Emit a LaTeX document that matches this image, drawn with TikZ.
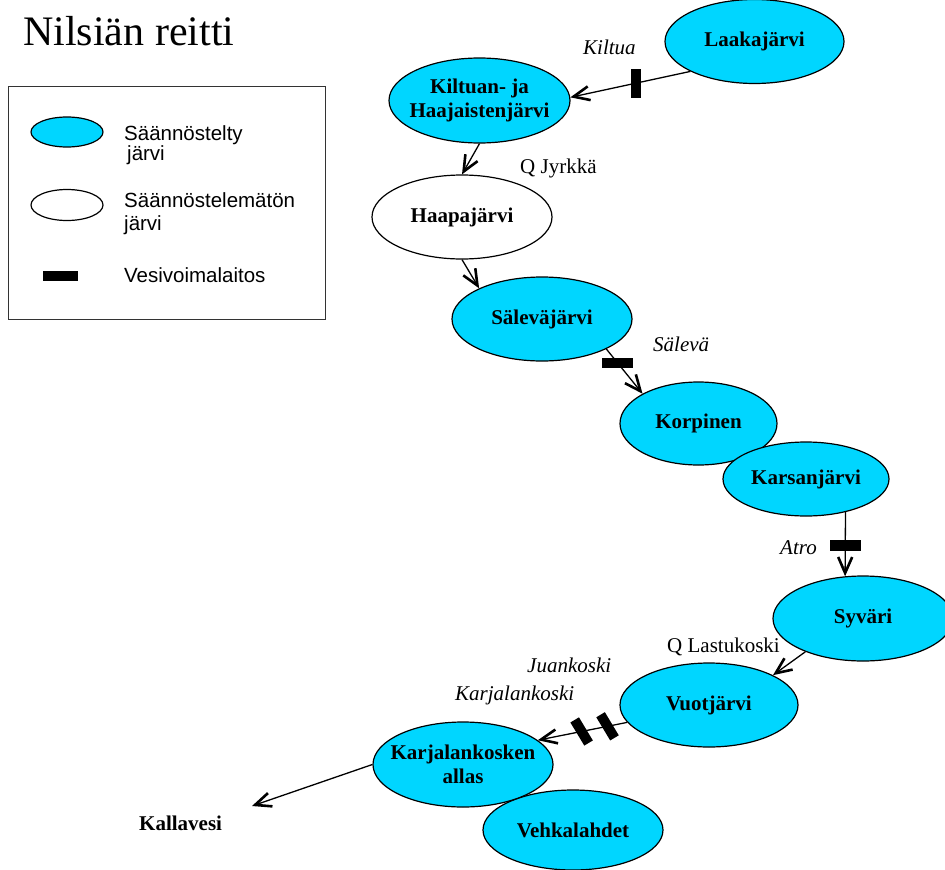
\documentclass[tikz,border=0pt]{standalone}
\usepackage{fontspec}
\setmainfont{Liberation Serif}
\newfontfamily\arlfont{Liberation Sans}
\usetikzlibrary{shapes.geometric,arrows.meta}
\definecolor{lakeblue}{RGB}{0,214,255}
\newcommand\lkfont{\bfseries\fontsize{21}{24}\selectfont}
\newcommand\lblfont{\fontsize{21}{24}\selectfont}
\newcommand\lgfont{\arlfont\fontsize{20.5}{23}\selectfont}
\begin{document}
\begin{tikzpicture}[x=1pt,y=-1pt,
  lake/.style={ellipse,draw=black,line width=1.2pt,fill=lakeblue,inner xsep=-30pt,inner ysep=-10pt,font=\lkfont,align=center},
  openlake/.style={lake,fill=white},
  flowarrow/.style={line width=1.3pt,-{Straight Barb[length=16pt,width=14pt,line width=2.6pt]}},
  plant/.style={rectangle,fill=black,draw=none,inner sep=0pt},
  hplant/.style={plant,minimum width=31pt,minimum height=10.5pt},
  vplant/.style={plant,minimum width=10pt,minimum height=28pt},
  lbl/.style={anchor=base west,inner sep=0pt,font=\lblfont},
  ilbl/.style={lbl,font=\lblfont\itshape},
  lgtext/.style={anchor=base west,inner sep=0pt,font=\lgfont}
]
\useasboundingbox (0,0) rectangle (945,870);

% title
\node[lbl,font=\fontsize{42}{48}\selectfont] (title) at (23,45) {Nilsiän reitti};

% legend
\draw[draw=black!80,line width=1pt] (8,86) rectangle (325,319);
\node[lake,minimum width=72pt,minimum height=30pt] (lgreg) at (67,132) {};
\node[openlake,minimum width=72pt,minimum height=31pt] (lgunreg) at (67,205) {};
\node[plant,minimum width=35pt,minimum height=10pt] (lgplant) at (60.5,276) {};
\node[lgtext] (lgt1) at (124,140) {Säännöstelty};
\node[lgtext] (lgt1b) at (127,160) {järvi};
\node[lgtext] (lgt2) at (124,207) {Säännöstelemätön};
\node[lgtext] (lgt2b) at (124,230) {järvi};
\node[lgtext] (lgt3) at (124,282) {Vesivoimalaitos};

% lakes
\node[lake,minimum width=179pt,minimum height=84pt] (laaka) at (754.5,41.5) {Laakajärvi};
\node[lake,minimum width=181pt,minimum height=85pt] (kilt) at (479.5,100.5) {Kiltuan- ja\\Haajaistenjärvi};
\node[openlake,minimum width=180pt,minimum height=84pt] (haapa) at (462,217) {Haapajärvi};
\node[lake,minimum width=180pt,minimum height=84pt] (saleva) at (542,319) {Säleväjärvi};
\node[lake,minimum width=157pt,minimum height=83pt] (korp) at (698.5,423.5) {Korpinen};
\node[lake,minimum width=166pt,minimum height=74pt] (karsan) at (806,479) {Karsanjärvi};
\node[lake,minimum width=180pt,minimum height=85pt] (syvari) at (863,618.5) {Syväri};
\node[lake,minimum width=178pt,minimum height=84pt] (vuot) at (709,705) {Vuotjärvi};
\node[lake,minimum width=180pt,minimum height=80pt] (vehka) at (573,830) {Vehkalahdet};
\node[lake,minimum width=180pt,minimum height=85pt] (karj) at (463,764.5) {Karjalankosken\\allas};
\node[lbl,font=\lkfont] (kalla) at (139,830) {Kallavesi};
\coordinate (kend) at (252,806);

% connectors
\draw[flowarrow] (laaka.205) -- node[vplant,pos=0.45,minimum height=29pt] (pk) {} (kilt.2);
\draw[flowarrow] (kilt.south) -- (haapa.north);
\draw[flowarrow] (haapa.south) -- (saleva.154);
\draw[flowarrow] (saleva.335) -- node[hplant,pos=0.31] (ps) {} (korp.152);
\draw[flowarrow] (karsan.320) -- node[hplant,pos=0.52] (pa) {} (syvari.113);
\draw[flowarrow] (syvari.210) -- (vuot.25);
\draw[flowarrow] (vuot.192.5) -- node[vplant,pos=0.22,rotate=31,minimum height=27pt] (pj) {}
  node[vplant,pos=0.51,rotate=31,minimum height=27pt] (pkk) {} (karj.18);
\draw[flowarrow] (karj.west) -- (kend);

% labels
\node[ilbl] (lkiltua) at (583,54) {Kiltua};
\node[lbl] (ljyrkka) at (520,173) {Q Jyrkkä};
\node[ilbl] (lsaleva) at (653,351) {Sälevä};
\node[ilbl] (latro) at (780,554) {Atro};
\node[lbl] (llastu) at (667,652) {Q Lastukoski};
\node[ilbl] (ljuan) at (527,672) {Juankoski};
\node[ilbl] (lkarj) at (455,700) {Karjalankoski};
\end{tikzpicture}
\end{document}
